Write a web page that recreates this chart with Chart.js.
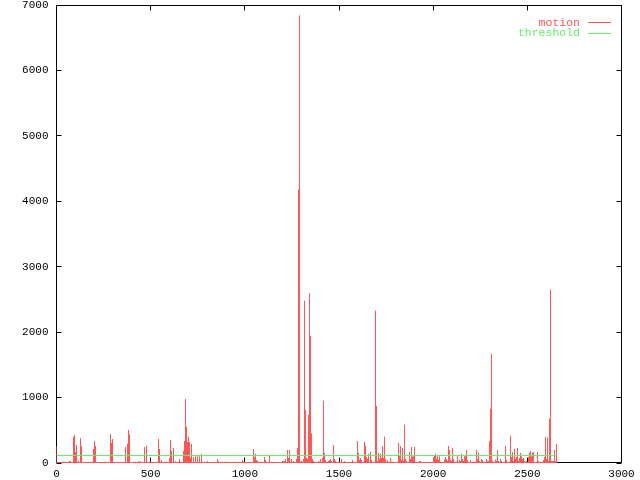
<!DOCTYPE html>
<html>
<head>
<meta charset="utf-8">
<title>motion</title>
<script src="https://cdn.jsdelivr.net/npm/chart.js@4/dist/chart.umd.min.js"></script>
<style>
    body { margin: 0; background: #ffffff; }
    canvas { display: block; }
</style>
</head>
<body>
<canvas id="myChart" width="640" height="480"></canvas>
<script>
// motion value, one sample every frameStep frames
const frameStep = 5.31;
const motion = [
    260, 10, 10, 10, 15, 10, 10, 20, 20, 10,
    10, 10, 10, 30, 30, 10, 15, 400, 430, 170,
    275, 10, 30, 15, 380, 255, 10, 10, 10, 10,
    10, 10, 20, 10, 20, 10, 10, 215, 335, 260,
    10, 10, 10, 10, 10, 10, 10, 10, 10, 20,
    10, 10, 20, 10, 445, 305, 365, 10, 10, 10,
    10, 10, 10, 10, 10, 10, 10, 10, 10, 245,
    15, 290, 505, 435, 15, 10, 10, 20, 10, 20,
    15, 10, 25, 20, 25, 15, 10, 10, 245, 10,
    265, 10, 10, 20, 20, 10, 15, 10, 10, 10,
    10, 20, 365, 215, 10, 45, 10, 10, 20, 10,
    20, 10, 10, 75, 350, 185, 10, 230, 10, 25,
    10, 10, 10, 60, 20, 10, 15, 185, 335, 980,
    550, 320, 400, 320, 80, 290, 10, 90, 10, 105,
    10, 105, 10, 105, 10, 140, 10, 10, 20, 10,
    10, 30, 10, 10, 10, 15, 10, 10, 20, 10,
    10, 60, 30, 15, 10, 10, 20, 15, 20, 10,
    20, 10, 10, 10, 10, 15, 15, 15, 10, 20,
    10, 10, 10, 20, 10, 10, 45, 20, 20, 15,
    10, 10, 10, 15, 15, 15, 10, 215, 90, 140,
    45, 30, 20, 10, 10, 20, 10, 10, 90, 45,
    10, 15, 10, 120, 15, 10, 10, 15, 10, 10,
    15, 10, 10, 15, 10, 10, 30, 25, 30, 60,
    10, 200, 75, 200, 15, 60, 10, 30, 10, 10,
    60, 230, 4180, 6845, 20, 30, 10, 60, 2480, 810,
    80, 60, 735, 2600, 1945, 450, 60, 30, 20, 10,
    20, 10, 30, 20, 60, 15, 75, 950, 155, 45,
    10, 15, 30, 45, 60, 30, 15, 275, 60, 30,
    10, 15, 10, 20, 10, 60, 10, 15, 30, 10,
    10, 15, 10, 10, 10, 10, 45, 15, 15, 10,
    15, 335, 155, 45, 75, 45, 10, 20, 320, 260,
    90, 60, 140, 20, 170, 45, 15, 15, 15, 2330,
    870, 30, 155, 60, 140, 75, 260, 75, 400, 60,
    20, 45, 10, 15, 75, 20, 10, 10, 15, 15,
    10, 20, 305, 120, 260, 45, 230, 30, 585, 60,
    30, 10, 15, 170, 60, 250, 100, 105, 245, 20,
    15, 10, 15, 30, 30, 15, 20, 10, 15, 15,
    10, 15, 15, 10, 15, 15, 10, 75, 120, 140,
    60, 120, 45, 105, 20, 15, 10, 15, 45, 90,
    60, 30, 260, 200, 45, 30, 230, 60, 15, 10,
    20, 105, 15, 45, 30, 140, 60, 30, 105, 120,
    200, 45, 15, 10, 45, 15, 10, 20, 10, 15,
    200, 60, 155, 30, 15, 60, 45, 10, 20, 15,
    60, 30, 30, 335, 830, 1670, 30, 15, 10, 50,
    30, 200, 30, 10, 60, 30, 15, 10, 15, 260,
    45, 10, 15, 10, 415, 90, 170, 30, 215, 60,
    90, 230, 30, 75, 155, 105, 60, 75, 30, 15,
    30, 15, 90, 155, 185, 105, 155, 170, 15, 10,
    15, 170, 30, 15, 10, 10, 15, 45, 90, 400,
    60, 385, 30, 675, 2650, 30, 30, 30, 200, 30,
    290
];
const threshold = 115;
const lastFrame = 2655;

const xTicks = [0, 500, 1000, 1500, 2000, 2500, 3000];
const yTicks = [0, 1000, 2000, 3000, 4000, 5000, 6000, 7000];

const red = '#ff5555';
const green = '#66ee66';
const font = 'Liberation Mono, DejaVu Sans Mono, monospace';

let motionData = [];
for (let i = 0; i < motion.length; i++) {
    motionData.push({ x: i * frameStep, y: motion[i] });
}

// gnuplot style box, inward ticks and key
const gnuplotFrame = {
    id: 'gnuplotFrame',
    beforeDatasetsDraw(chart) {
        const ctx = chart.ctx;
        const a = chart.chartArea;
        const xs = chart.scales.x;
        const ys = chart.scales.y;
        const L = Math.floor(a.left) + 0.5, R = Math.floor(a.right) + 0.5;
        const T = Math.floor(a.top) + 0.5, B = Math.floor(a.bottom) - 0.5;
        ctx.save();
        ctx.strokeStyle = '#000000';
        ctx.lineWidth = 1;
        ctx.beginPath();
        ctx.rect(L, T, R - L, B - T);
        xTicks.forEach(v => {
            const px = Math.floor(xs.getPixelForValue(v)) + 0.5;
            ctx.moveTo(px, B); ctx.lineTo(px, B - 5);
            ctx.moveTo(px, T); ctx.lineTo(px, T + 5);
        });
        yTicks.forEach(v => {
            const py = Math.floor(ys.getPixelForValue(v)) + 0.5;
            ctx.moveTo(L, py); ctx.lineTo(L + 5, py);
            ctx.moveTo(R, py); ctx.lineTo(R - 5, py);
        });
        ctx.stroke();
        ctx.restore();
    },
    afterDraw(chart) {
        const ctx = chart.ctx;
        ctx.save();
        ctx.font = '11.5px ' + font;
        ctx.textAlign = 'right';
        ctx.textBaseline = 'middle';
        chart.data.datasets.forEach((ds, i) => {
            const y = 22.5 + i * 10.5;
            ctx.fillStyle = ds.borderColor;
            ctx.fillText(ds.label, 580, y);
            ctx.strokeStyle = ds.borderColor;
            ctx.lineWidth = 1;
            ctx.beginPath();
            ctx.moveTo(588, Math.floor(y) + 0.5);
            ctx.lineTo(611, Math.floor(y) + 0.5);
            ctx.stroke();
        });
        ctx.restore();
    }
};

const ctx = document.getElementById('myChart');

new Chart(ctx, {
    type: 'bar',
    data: {
        datasets: [
            {
                label: 'motion',
                data: motionData,
                backgroundColor: red,
                borderColor: red,
                borderWidth: 0,
                barThickness: 1,
                minBarLength: 1,
                inflateAmount: 0,
                grouped: false,
                order: 2
            },
            {
                type: 'line',
                label: 'threshold',
                data: [{ x: 0, y: threshold }, { x: lastFrame, y: threshold }],
                borderColor: green,
                borderWidth: 1,
                pointRadius: 0,
                fill: false,
                order: 1
            }
        ]
    },
    options: {
        responsive: false,
        animation: false,
        layout: { padding: { top: 5, right: 18.5, left: 0, bottom: 0 } },
        scales: {
            x: {
                type: 'linear',
                min: 0,
                max: 3000,
                offset: false,
                grid: { display: false, drawTicks: false },
                border: { display: false },
                afterBuildTicks: s => { s.ticks = xTicks.map(v => ({ value: v })); },
                afterFit: s => { s.height = 17; s.paddingLeft = 0; s.paddingRight = 0; },
                ticks: {
                    autoSkip: false,
                    maxRotation: 0,
                    padding: 4,
                    color: '#000000',
                    font: { family: font, size: 11 },
                    callback: v => String(v)
                }
            },
            y: {
                min: 0,
                max: 7000,
                grid: { display: false, drawTicks: false },
                border: { display: false },
                afterBuildTicks: s => { s.ticks = yTicks.map(v => ({ value: v })); },
                afterFit: s => { s.width = 56.5; s.paddingTop = 0; s.paddingBottom = 0; },
                ticks: {
                    padding: 8,
                    color: '#000000',
                    font: { family: font, size: 11 },
                    callback: v => String(v)
                }
            }
        },
        plugins: {
            legend: { display: false },
            tooltip: { enabled: false }
        }
    },
    plugins: [gnuplotFrame]
});
</script>
</body>
</html>
